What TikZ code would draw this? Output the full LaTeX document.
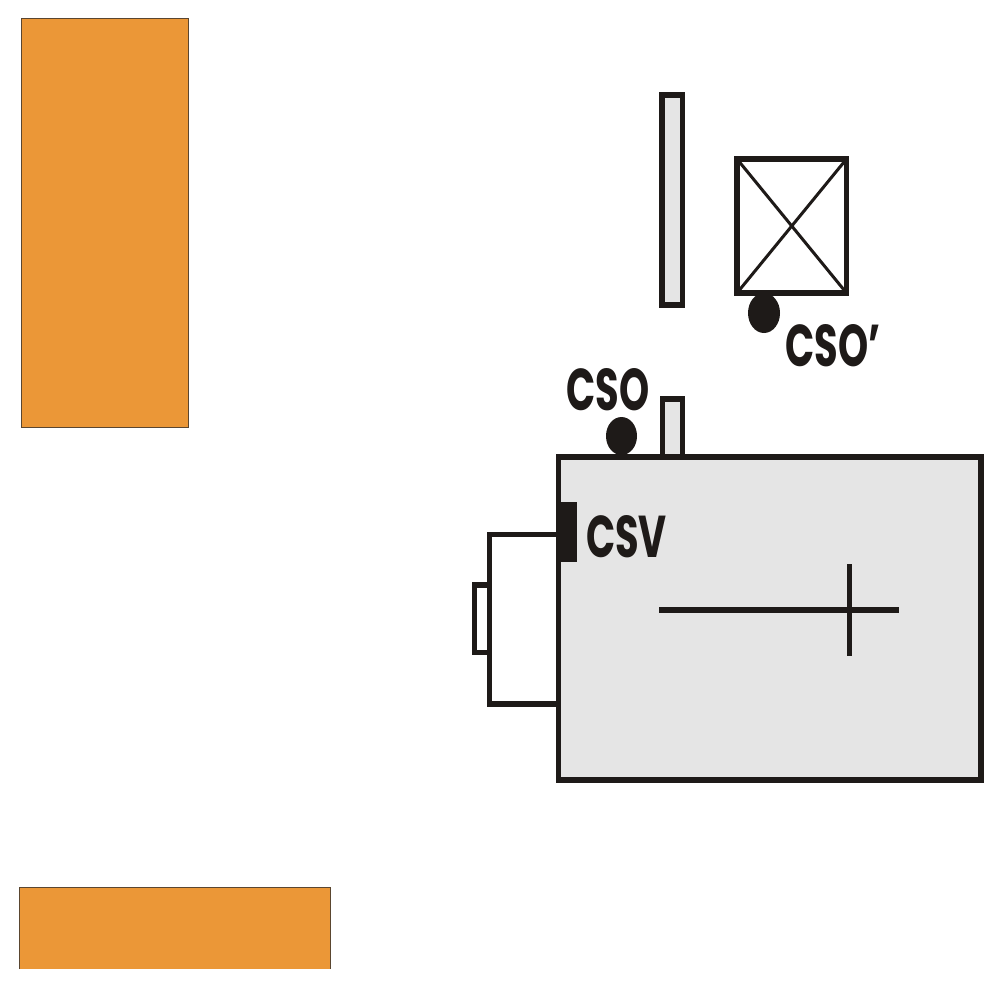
\documentclass[tikz,border=0pt]{standalone}
\usepackage{fontspec}
\setmainfont{Poppins}
\definecolor{ink}{HTML}{1E1A18}
\definecolor{panel}{HTML}{E5E5E5}
\definecolor{amber}{HTML}{EB9737}
\definecolor{rim}{HTML}{5A4630}
\tikzset{
  x=1pt,y=-1pt,
  heavy/.style={draw=ink,line width=5.6pt,line join=miter},
  thin cross/.style={draw=ink,line width=3pt},
  orange block/.style={fill=amber},
  rim line/.style={draw=rim,line width=.9pt},
  dot/.style={fill=ink},
  tag/.style={inner sep=0pt,text=ink},
}
\newcommand{\tagtext}[1]{\scalebox{.65}[1]{\fontsize{59}{59}\selectfont\bfseries #1}}
\begin{document}
\begin{tikzpicture}
\useasboundingbox (0,0) rectangle (985,985);
\fill[white] (0,0) rectangle (985,985);
% orange blocks
\fill[orange block] (21,18) rectangle (188,427);
\draw[rim line] (21,427) -- (21,18.5) -- (188,18.5) -- (188,427) -- cycle;
\fill[orange block] (19,887) rectangle (330,969);
\draw[rim line] (19,969) -- (19,887) -- (330,887) -- (330,969);
% tall bar and crossed box
\draw[heavy,fill=panel] (662,95) rectangle (682.5,305);
\draw[heavy,fill=white] (737,159) rectangle (846.5,293);
\draw[thin cross] (737,159) -- (846.5,293);
\draw[thin cross] (846.5,159) -- (737,293);
\fill[dot] (764,313) ellipse [x radius=16,y radius=20];
% stub and main box
\draw[heavy,fill=panel] (662.5,457) -- (662.5,399) -- (682.5,399) -- (682.5,457);
\draw[heavy,fill=white] (489.5,534.5) rectangle (558.5,704);
\draw[heavy,fill=white] (474.5,585) rectangle (489.5,652.5);
\draw[heavy,fill=panel] (558.5,457) rectangle (981,780);
\fill[dot] (621.5,436) ellipse [x radius=15.5,y radius=19];
\fill[dot] (556,502) rectangle (577,562);
% cross mark
\draw[ink,line width=6pt] (659,610) -- (899,610);
\draw[ink,line width=5pt] (849,564) -- (849,656);
% labels
\node[tag] (cso) at (608,389.5) {\tagtext{CSO}};
\node[tag] (csv) at (626.5,537) {\tagtext{CSV}};
\node[tag] (csop) at (833,345.5) {\tagtext{CSO’}};
\end{tikzpicture}
\end{document}
